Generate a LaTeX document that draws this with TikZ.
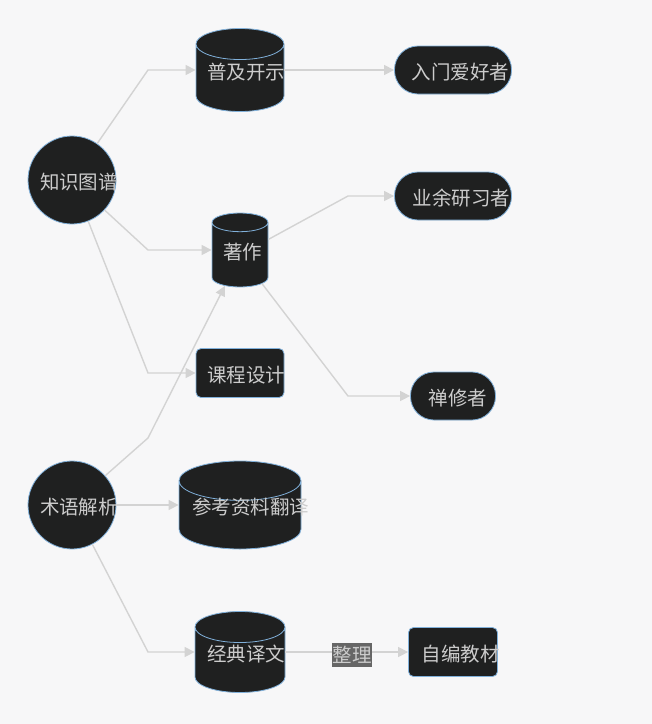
\documentclass[tikz,border=0pt]{standalone}
\usepackage{fontspec}
\setmainfont{Noto Sans CJK SC}
\usetikzlibrary{positioning}
\usetikzlibrary{shapes.geometric}
\usetikzlibrary{arrows.meta}

\definecolor{bgc}{HTML}{F7F7F8}
\definecolor{nodec}{HTML}{1F2020}
\definecolor{rimc}{HTML}{81B1DB}
\definecolor{linec}{HTML}{D3D3D3}
\definecolor{txtc}{HTML}{CCCCCC}
\definecolor{lblc}{HTML}{666666}

% text starts near the left edge and may run past the shape
\newcommand{\lbl}[2]{\raisebox{-2.5pt}[\height][\depth]{\makebox[#1pt][l]{#2}}}
% same, lifted back to the middle of a cylinder
\newcommand{\dblbl}[3]{\raisebox{#2pt}[\height][\depth]{\makebox[#1pt][l]{#3}}}

\tikzset{
base/.style={draw=rimc, fill=nodec, text=txtc, inner sep=0pt, line width=0.8pt, font=\fontsize{19.5}{23}\selectfont},
ring/.style={base, circle, minimum size=88pt},
db/.style={base, cylinder, shape border rotate=90, anchor=shape center},
box/.style={base, rectangle, rounded corners=5pt, minimum height=49pt},
pill/.style={base, rectangle, rounded corners=23.5pt, minimum height=48pt},
flow/.style={draw=linec, line width=1.4pt, -{Triangle[length=10pt,width=10pt]}},
elabel/.style={fill=lblc, text=txtc, inner sep=0.5pt, minimum height=24pt, font=\fontsize{19.5}{23}\selectfont}
}

\begin{document}
\begin{tikzpicture}[x=1pt,y=-1pt]
\fill[bgc] (0,0) rectangle (652,724);

\node[ring](zs) at (72,180){\lbl{64}{知识图谱}};
\node[ring](sy) at (72,505){\lbl{64}{术语解析}};
\node[db, minimum width=88pt, minimum height=83pt, aspect=0.47](pj) at (240,70){\dblbl{66}{6}{普及开示}};
\node[db, minimum width=56pt, minimum height=74pt, aspect=0.55](zz) at (240,250){\dblbl{34}{3}{著作}};
\node[box, minimum width=88pt](kc) at (240,373){\lbl{66}{课程设计}};
\node[db, minimum width=122pt, minimum height=88pt, aspect=0.41](ck) at (240,505){\dblbl{96}{7.5}{参考资料翻译}};
\node[db, minimum width=90pt, minimum height=81pt, aspect=0.47](jd) at (240,652){\dblbl{66}{6}{经典译文}};
\node[pill, minimum width=117pt](rm) at (453,70){\lbl{83}{入门爱好者}};
\node[pill, minimum width=117pt](yy) at (453,196){\lbl{81}{业余研习者}};
\node[pill, minimum width=85pt](cx) at (453,396){\lbl{49}{禅修者}};
\node[box, minimum width=89pt](zb) at (453,652){\lbl{63}{自编教材}};

\draw[flow] (zs) -- (148,70) -- (pj.shape center -| pj.west);
\draw[flow] (zs) -- (148,250) -- (zz.shape center -| zz.west);
\draw[flow] (zs) -- (148,373) -- (kc);
\draw[flow] (sy) -- (148,438) -- (zz.244);
\draw[flow] (sy) -- (148,652) -- (jd.shape center -| jd.west);
\draw[flow] (zz) -- (348,196) -- (yy);
\draw[flow] (zz) -- (348,396) -- (cx);
\draw[flow] (sy) -- (ck.shape center -| ck.west);
\draw[flow] (pj.shape center -| pj.east) -- (rm);
\draw[flow] (jd.shape center -| jd.east) -- (zb);

\node[elabel](zl) at (352,655){整理};
\end{tikzpicture}
\end{document}
